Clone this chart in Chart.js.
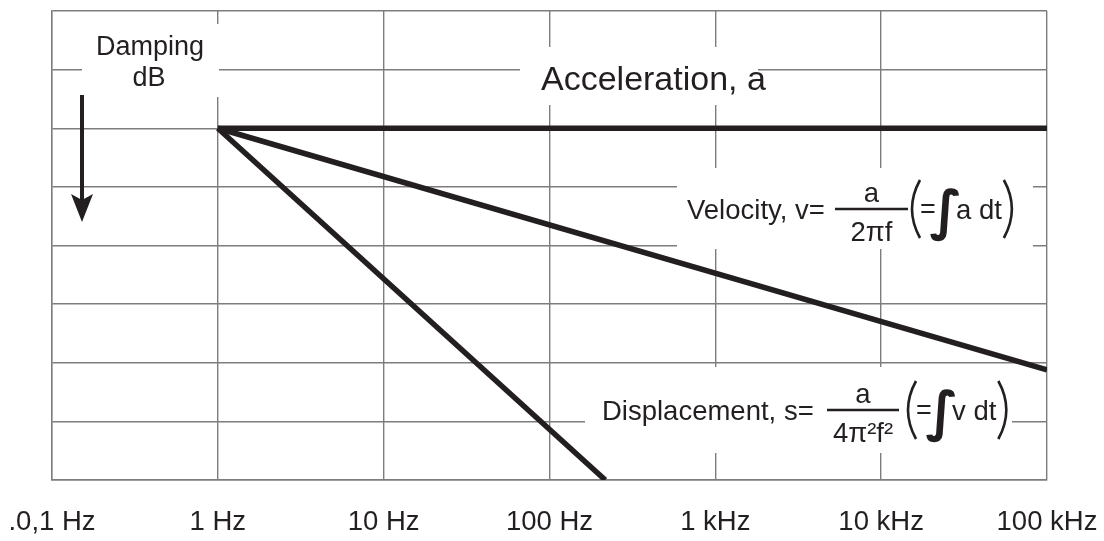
<!DOCTYPE html>
<html>
<head>
<meta charset="utf-8">
<script src="https://cdn.jsdelivr.net/npm/chart.js@4"></script>
<style>
  html, body { margin: 0; padding: 0; background: #fff; }
  canvas { display: block; }
</style>
</head>
<body>
<canvas id="chart" width="1104" height="541"></canvas>
<script>
// Frequency axis (log) and damping steps
const freqTicks = [0.1, 1, 10, 100, 1000, 10000, 100000];
const freqLabels = ['.0,1 Hz', '1 Hz', '10 Hz', '100 Hz', '1 kHz', '10 kHz', '100 kHz'];
const dampingMin = 0;
const dampingMax = 8;

// Curves: frequency in Hz, damping in grid steps (downwards)
const accelFreq = [1, 100000];
const accelDamping = [2, 2];
const velocityFreq = [1, 100000];
const velocityDamping = [2, 6.12];
const displacementFreq = [1, 217];
const displacementDamping = [2, 8];

const ink = '#231f20';
const gridColor = '#7d7d7d';

function toPoints(xs, ys) {
    return xs.map((x, i) => ({ x: x, y: ys[i] }));
}

// Labels, white label boxes and the arrow, drawn over the grid
const labelsPlugin = {
    id: 'labels',
    beforeDatasetsDraw(chart) {
        const ctx = chart.ctx;
        const ca = chart.chartArea;
        // map reference pixel positions onto the actual chart area
        const X = px => ca.left + (px - 52) * ca.width / 995;
        const Y = py => ca.top + (py - 11) * ca.height / 469;

        ctx.save();
        ctx.fillStyle = '#ffffff';
        [[82, 24, 219, 97], [520, 47, 758, 105], [677, 168, 1033, 249], [585, 367, 1012, 453]]
            .forEach(([x0, y0, x1, y1]) => ctx.fillRect(X(x0), Y(y0), X(x1) - X(x0), Y(y1) - Y(y0)));

        ctx.fillStyle = ink;
        ctx.strokeStyle = ink;
        ctx.textBaseline = 'alphabetic';

        // Damping dB
        ctx.font = '27px "Liberation Sans", Arial, sans-serif';
        ctx.textAlign = 'center';
        ctx.fillText('Damping', X(150), Y(55));
        ctx.fillText('dB', X(149), Y(86));

        // arrow
        ctx.lineWidth = 4;
        ctx.beginPath();
        ctx.moveTo(X(82), Y(95));
        ctx.lineTo(X(82), Y(200));
        ctx.stroke();
        ctx.beginPath();
        ctx.moveTo(X(71), Y(194));
        ctx.lineTo(X(82), Y(200));
        ctx.lineTo(X(93), Y(194));
        ctx.lineTo(X(82), Y(222));
        ctx.closePath();
        ctx.fill();

        // Acceleration
        ctx.font = '34px "Liberation Sans", Arial, sans-serif';
        ctx.textAlign = 'left';
        ctx.fillText('Acceleration, a', X(541), Y(90));

        function formula(lead, leadX, baseY, num, den, barX0, barX1, inner, parenX) {
            ctx.font = '27.5px "Liberation Sans", Arial, sans-serif';
            ctx.textAlign = 'left';
            ctx.fillText(lead, X(leadX), Y(baseY));
            ctx.lineWidth = 2.5;
            ctx.beginPath();
            ctx.moveTo(X(barX0), Y(baseY - 10));
            ctx.lineTo(X(barX1), Y(baseY - 10));
            ctx.stroke();
            ctx.textAlign = 'center';
            const cx = (barX0 + barX1) / 2;
            ctx.fillText(num, X(cx), Y(baseY - 17));
            ctx.fillText(den, X(cx), Y(baseY + 22));
            // (= ∫ ... dt)
            ctx.lineWidth = 2.6;
            ctx.beginPath();
            ctx.moveTo(X(parenX + 9), Y(baseY - 39));
            ctx.quadraticCurveTo(X(parenX - 7), Y(baseY - 10), X(parenX + 9), Y(baseY + 19));
            ctx.stroke();
            ctx.font = '27px "Liberation Sans", Arial, sans-serif';
            ctx.fillText('=', X(parenX + 17), Y(baseY - 1));
            ctx.font = 'bold 54px "DejaVu Sans", sans-serif';
            ctx.fillText('\u222B', X(parenX + 35), Y(baseY + 10));
            ctx.font = '27.5px "Liberation Sans", Arial, sans-serif';
            ctx.textAlign = 'left';
            ctx.fillText(inner, X(parenX + 45), Y(baseY));
            const endX = parenX + 47 + ctx.measureText(inner).width * 995 / ca.width;
            ctx.beginPath();
            ctx.moveTo(X(endX), Y(baseY - 39));
            ctx.quadraticCurveTo(X(endX + 16), Y(baseY - 10), X(endX), Y(baseY + 19));
            ctx.stroke();
        }

        formula('Velocity, v=', 687, 219, 'a', '2\u03C0f', 835, 908, 'a dt', 911);
        formula('Displacement, s=', 602, 420, 'a', '4\u03C0\u00B2f\u00B2', 827, 899, 'v dt', 907);

        ctx.restore();
    }
};

new Chart(document.getElementById('chart'), {
    type: 'line',
    data: {
        datasets: [
            { label: 'Acceleration', data: toPoints(accelFreq, accelDamping) },
            { label: 'Velocity', data: toPoints(velocityFreq, velocityDamping) },
            { label: 'Displacement', data: toPoints(displacementFreq, displacementDamping) }
        ].map(ds => Object.assign(ds, {
            borderColor: ink,
            borderWidth: 5.5,
            pointRadius: 0,
            fill: false,
            tension: 0
        }))
    },
    options: {
        responsive: false,
        animation: false,
        devicePixelRatio: 1,
        layout: { padding: { left: 52, right: 57, top: 11, bottom: 0 } },
        plugins: {
            legend: { display: false },
            tooltip: { enabled: false }
        },
        scales: {
            x: {
                type: 'logarithmic',
                min: freqTicks[0],
                max: freqTicks[freqTicks.length - 1],
                afterBuildTicks: axis => { axis.ticks = freqTicks.map(v => ({ value: v })); },
                afterFit: axis => {
                    axis.height = 61;
                    axis.paddingLeft = 0;
                    axis.paddingRight = 0;
                },
                ticks: {
                    callback: (value, index) => freqLabels[index],
                    autoSkip: false,
                    maxRotation: 0,
                    padding: 26,
                    color: ink,
                    font: { family: '"Liberation Sans", Arial, sans-serif', size: 27.5 }
                },
                grid: { color: gridColor, lineWidth: 1.4, drawTicks: false },
                border: { color: gridColor, width: 1.4 }
            },
            y: {
                type: 'linear',
                min: dampingMin,
                max: dampingMax,
                reverse: true,
                afterFit: axis => { axis.width = 0; },
                ticks: { display: false, stepSize: 1 },
                grid: { color: gridColor, lineWidth: 1.4, drawTicks: false },
                border: { color: gridColor, width: 1.4 }
            }
        }
    },
    plugins: [labelsPlugin]
});
</script>
</body>
</html>
